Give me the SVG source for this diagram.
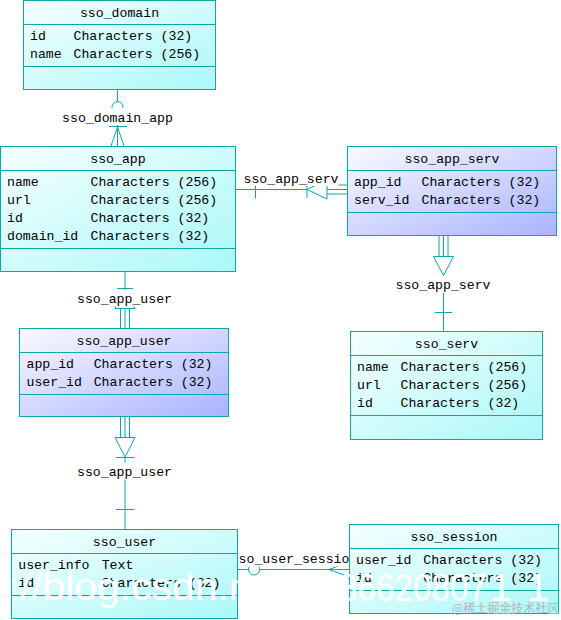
<svg xmlns="http://www.w3.org/2000/svg" width="561" height="620" viewBox="0 0 561 620">
<style>
.box{stroke:#0ca8a8;stroke-width:1}
.sep{stroke:#0ca8a8;stroke-width:1;fill:none}
.t{font-family:"Liberation Mono","DejaVu Sans Mono",monospace;font-size:13.2px;fill:#000}
.ttl{text-anchor:middle}
.cn{stroke:#0ca8a8;stroke-width:1;fill:none}
.cw{stroke:#0ca8a8;stroke-width:1;fill:#fff}
.lb{fill:#fff}
.wm{font-family:"Liberation Sans",Arial,sans-serif;font-size:39px;fill:#fff}
.wm2{font-family:"Noto Sans CJK SC","Noto Sans",sans-serif;font-size:12px;fill:#b4b4b4}
</style>
<defs>
<linearGradient id="gc" x1="0" y1="0" x2="1" y2="1"><stop offset="0" stop-color="#f6ffff"/><stop offset="1" stop-color="#abf8f8"/></linearGradient>
<linearGradient id="gp" x1="0" y1="0" x2="1" y2="1"><stop offset="0" stop-color="#fafaff"/><stop offset="1" stop-color="#a9b3ff"/></linearGradient>
</defs>
<rect width="561" height="620" fill="#fff"/>
<g id="connectors">
<!-- sso_domain_app -->
<path class="cn" d="M117.5,90 V146 M109,126.5 H127 M117.5,127 L111,146 M117.5,127 L124,146"/>
<circle class="cw" cx="117.5" cy="107.2" r="5.5"/>
<!-- sso_app_serv horizontal -->
<path class="cn" d="M235.5,189.5 H307 M255.5,180 V198.5 M307,181 V198 M327,185 H347 M327,189.5 H347 M327,194 H347"/>
<path class="cw" d="M307,189.5 L327,180 V199 Z"/>
<!-- sso_app_serv vertical -->
<path class="cn" d="M439,236 V256.5 M443.5,236 V256.5 M448,236 V256.5 M443.5,275.5 V331.5 M435,312.5 H452"/>
<path class="cw" d="M433.5,256.5 H453.5 L443.5,275.5 Z"/>
<!-- sso_app_user upper -->
<path class="cn" d="M125,272 V288.5 M117,288.5 H133 M120.5,308.5 V329 M125,308.5 V329 M129.5,308.5 V329"/>
<path class="cw" d="M125,288.5 L115,308.5 H135 Z"/>
<!-- sso_app_user lower -->
<path class="cn" d="M120.5,417 V437.5 M125,417 V437.5 M129.5,417 V437.5 M125,457 V529.5 M116,457.5 H134 M116,509.5 H134"/>
<path class="cw" d="M115,437.5 H135 L125,457 Z"/>
<!-- sso_user_session -->
<path class="cn" d="M238,569.5 H349 M329,569.5 L349,562 M329,569.5 L349,577"/>
<circle class="cw" cx="254" cy="569.5" r="5.5"/>
<!-- labels -->
<rect class="lb" x="62" y="108" width="111" height="17"/>
<text class="t ttl" x="117.5" y="121.5">sso_domain_app</text>
<rect class="lb" x="243.5" y="169" width="95" height="17"/>
<text class="t ttl" x="291" y="182.5">sso_app_serv</text>
<rect class="lb" x="395.5" y="275.8" width="95" height="17"/>
<text class="t ttl" x="443" y="289">sso_app_serv</text>
<rect class="lb" x="77" y="289.5" width="95" height="17"/>
<text class="t ttl" x="124.5" y="303">sso_app_user</text>
<rect class="lb" x="77" y="462.5" width="95" height="17"/>
<text class="t ttl" x="124.5" y="476">sso_app_user</text>
<rect class="lb" x="230.5" y="549.5" width="127" height="17"/>
<text class="t ttl" x="294" y="563">sso_user_session</text>
</g>
<g id="sso_domain">
<rect class="box" x="23.5" y="0.5" width="192" height="89" fill="url(#gc)"/>
<path class="sep" d="M23.5,24.5 H215.5 M23.5,66.5 H215.5"/>
<text class="t ttl" x="119.5" y="17">sso_domain</text>
<text class="t" x="30" y="39.5">id</text><text class="t" x="73.5" y="39.5">Characters (32)</text>
<text class="t" x="30" y="57.5">name</text><text class="t" x="73.5" y="57.5">Characters (256)</text>
</g>
<g id="sso_app">
<rect class="box" x="0.5" y="146.5" width="235" height="125" fill="url(#gc)"/>
<path class="sep" d="M0.5,170.5 H235.5 M0.5,248.5 H235.5"/>
<text class="t ttl" x="118" y="163">sso_app</text>
<text class="t" x="7" y="186">name</text><text class="t" x="90.5" y="186">Characters (256)</text>
<text class="t" x="7" y="204">url</text><text class="t" x="90.5" y="204">Characters (256)</text>
<text class="t" x="7" y="222">id</text><text class="t" x="90.5" y="222">Characters (32)</text>
<text class="t" x="7" y="240">domain_id</text><text class="t" x="90.5" y="240">Characters (32)</text>
</g>
<g id="sso_app_serv">
<rect class="box" x="347.5" y="146.5" width="209" height="89" fill="url(#gp)"/>
<path class="sep" d="M347.5,170.5 H556.5 M347.5,212.5 H556.5"/>
<text class="t ttl" x="452" y="163">sso_app_serv</text>
<text class="t" x="354" y="186">app_id</text><text class="t" x="421.5" y="186">Characters (32)</text>
<text class="t" x="354" y="204">serv_id</text><text class="t" x="421.5" y="204">Characters (32)</text>
</g>
<g id="sso_serv">
<rect class="box" x="350.5" y="331.5" width="192" height="108" fill="url(#gc)"/>
<path class="sep" d="M350.5,355.5 H542.5 M350.5,415.5 H542.5"/>
<text class="t ttl" x="446.5" y="347.5">sso_serv</text>
<text class="t" x="357" y="371">name</text><text class="t" x="400.5" y="371">Characters (256)</text>
<text class="t" x="357" y="389">url</text><text class="t" x="400.5" y="389">Characters (256)</text>
<text class="t" x="357" y="407">id</text><text class="t" x="400.5" y="407">Characters (32)</text>
</g>
<g id="sso_app_user">
<rect class="box" x="19.5" y="328.5" width="209" height="88" fill="url(#gp)"/>
<path class="sep" d="M19.5,352.5 H228.5 M19.5,394.5 H228.5"/>
<text class="t ttl" x="124" y="345">sso_app_user</text>
<text class="t" x="26.5" y="368">app_id</text><text class="t" x="93.7" y="368">Characters (32)</text>
<text class="t" x="26.5" y="386">user_id</text><text class="t" x="93.7" y="386">Characters (32)</text>
</g>
<g id="sso_user">
<rect class="box" x="11.5" y="529.5" width="226" height="89" fill="url(#gc)"/>
<path class="sep" d="M11.5,553.5 H237.5 M11.5,595.5 H237.5"/>
<text class="t ttl" x="124.5" y="546">sso_user</text>
<text class="t" x="18.3" y="569">user_info</text><text class="t" x="101.7" y="569">Text</text>
<text class="t" x="18.3" y="587">id</text><text class="t" x="101.7" y="587">Characters (32)</text>
</g>
<g id="sso_session">
<rect class="box" x="349.5" y="524.5" width="209" height="89" fill="url(#gc)"/>
<path class="sep" d="M349.5,548.5 H558.5 M349.5,590.5 H558.5"/>
<text class="t ttl" x="454" y="541">sso_session</text>
<text class="t" x="356" y="564">user_id</text><text class="t" x="423.3" y="564">Characters (32)</text>
<text class="t" x="356" y="582">id</text><text class="t" x="423.3" y="582">Characters (32)</text>
</g>
<g id="watermark">
<text class="wm" x="8.5" y="600" textLength="243" lengthAdjust="spacingAndGlyphs">://blog.csdn.n</text>
<text class="wm" y="601"><tspan x="339" textLength="148" lengthAdjust="spacingAndGlyphs">36620807</tspan><tspan x="490">1</tspan><tspan x="527">1</tspan></text>
<text class="wm2" x="452" y="613">@稀土掘金技术社区</text>
</g>
</svg>
